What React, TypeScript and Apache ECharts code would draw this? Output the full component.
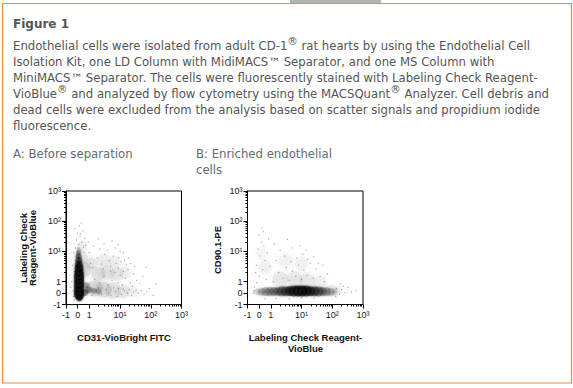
import React, { useEffect, useRef } from "react";
import * as echarts from "echarts";

// ---------- text content ----------
const figureTitle = "Figure 1";
const bodyLines = [
  "Endothelial cells were isolated from adult CD-1{r|®} rat hearts by using the Endothelial Cell",
  "Isolation Kit, one LD Column with MidiMACS™ Separator, and one MS Column with",
  "MiniMACS™ Separator. The cells were fluorescently stained with Labeling Check Reagent-",
  "VioBlue{r|®} and analyzed by flow cytometry using the MACSQuant{r|®} Analyzer. Cell debris and",
  "dead cells were excluded from the analysis based on scatter signals and propidium iodide",
  "fluorescence.",
];
const bodyLineY = [45.5, 61.5, 77.5, 94, 110, 126];
const panelATitle = "A: Before separation";
const panelBTitle = ["B: Enriched endothelial", "cells"];
const panelAXTitle = "CD31-VioBright FITC";
const panelAYTitle = "Labeling Check\nReagent-VioBlue";
const panelBXTitle = "Labeling Check Reagent-\nVioBlue";
const panelBYTitle = "CD90.1-PE";

// ---------- axis ticks (biexponential display) ----------
const majorTickValues = [-1, 0, 1, 10, 100, 1000];
const majorTickLabels = ["-1", "0", "1", "10¹", "10²", "10³"];
const minorTickValues = [2, 3, 4, 5, 6, 7, 8, 9, 20, 30, 40, 50, 60, 70, 80, 90, 200, 300, 400, 500, 600, 700, 800, 900];

// ---------- panel A data: [x, y, size, alpha] / [x, y] ----------
const panelACore = [
  [0.15, -0.4, 7, 0.5], [0.12, -0.15, 10, 0.6], [0.12, 0.15, 10, 0.62], [0.12, 0.5, 10, 0.62],
  [0.12, 0.85, 10, 0.62], [0.12, 1.2, 10, 0.6], [0.12, 1.6, 10, 0.58], [0.12, 2.1, 9, 0.55],
  [0.12, 2.8, 9, 0.5], [0.1, 3.7, 8, 0.48], [0.1, 5.0, 7, 0.42], [0.08, 6.8, 6, 0.35],
  [0.08, 9.0, 5, 0.26], [0.08, 12, 4, 0.15],
  [0.6, 0.05, 7, 0.3], [0.9, 0.3, 7, 0.25], [1.4, 0.2, 6, 0.18], [2.0, 0.15, 6, 0.12], [0.7, 0.7, 6, 0.2],
];
const panelAHaze = [
  [0.5, 2.5, 16, 0.08], [0.3, 6, 14, 0.06], [1.5, 0.4, 16, 0.09], [3, 0.3, 16, 0.08], [6, 0.2, 16, 0.06],
  [12, 0.15, 14, 0.05], [25, 0.1, 12, 0.035], [2, 1.8, 14, 0.07], [4, 2, 14, 0.06], [8, 1.8, 14, 0.05],
  [3, 5, 14, 0.045], [7, 4.5, 12, 0.04], [1.2, 4, 12, 0.06], [15, 2, 12, 0.035], [0.4, 15, 10, 0.04],
];
const panelADots = [
  [0.0, 10], [0.3, 11], [-0.2, 13], [0.5, 14], [0.1, 17], [0.35, 20], [-0.1, 24], [0.6, 27], [0.2, 32],
  [0.0, 40], [0.45, 48], [-0.25, 58], [0.15, 70], [0.3, 88], [0.7, 16], [-0.35, 9], [0.55, 9.5], [0.25, 38],
  [-0.4, 0.2], [-0.5, 1.0], [-0.35, -0.3], [-0.6, 0.5], [-0.3, 2.2], [-0.45, 3.5], [-0.3, -0.6],
  [1.2, -0.2], [2.5, -0.1], [3.5, 0.3], [5, -0.2], [7, 0.1], [9, 0.4], [11, -0.1], [14, 0.2], [17, 0.0],
  [20, 0.3], [24, -0.2], [28, 0.1], [33, 0.25], [40, 0.0], [48, 0.2], [60, -0.1], [75, 0.1], [4.2, 0.0],
  [6.2, 0.45], [12.5, 0.35], [2.0, 0.45], [8, -0.3],
  [1.0, 0.8], [1.5, 1.2], [2.2, 0.9], [3, 1.5], [4, 0.7], [5.5, 1.1], [6.8, 2.0], [8.5, 0.9], [10, 1.6],
  [12, 0.7], [15, 1.3], [18, 2.5], [22, 0.9], [27, 1.8], [35, 1.1], [45, 0.8], [2.8, 2.6], [4.8, 2.2],
  [1.3, 2.9], [9, 2.8], [13, 2.2], [25, 0.6],
  [1.1, 4], [1.8, 6], [2.5, 3.8], [3.2, 8], [4.4, 5], [5, 3.3], [6, 7], [7.5, 4], [9, 6], [11, 4.5],
  [13, 9], [16, 3.6], [19, 6], [2.2, 12], [1.4, 15], [4, 11], [7, 13], [10, 10], [3, 18], [5.5, 22],
  [1.0, 9], [8.5, 17], [14, 5], [22, 4], [30, 3.2], [2.0, 26], [0.9, 20],
  [55, 1.5], [90, 0.4], [120, -0.2], [70, 3], [150, 0.8],
];

// ---------- panel B data ----------
const panelBCore = [
  [-0.13, 0.12, 7, 0.1], [0.22, 0.12, 8, 0.14], [0.57, 0.13, 9, 0.18], [0.91, 0.13, 9, 0.2],
  [1.26, 0.14, 9, 0.23], [1.73, 0.14, 9, 0.26], [2.31, 0.15, 10, 0.3], [3.14, 0.16, 10, 0.34],
  [4.23, 0.17, 10, 0.4], [5.74, 0.18, 11, 0.45], [7.77, 0.18, 11, 0.5], [10.5, 0.18, 11, 0.5],
  [14.2, 0.17, 11, 0.46], [19.3, 0.16, 10, 0.42], [26.1, 0.15, 10, 0.36], [35.4, 0.14, 10, 0.3],
  [47.9, 0.13, 9, 0.24], [64.9, 0.12, 9, 0.18], [88, 0.12, 8, 0.12], [119, 0.1, 7, 0.07],
];
const panelBHaze = [
  [0.5, 3, 14, 0.03], [2, 1.2, 16, 0.05], [6, 1.2, 16, 0.05], [15, 1.1, 16, 0.045], [40, 0.9, 14, 0.035],
  [0.2, 8, 12, 0.025], [3, 5, 14, 0.03], [10, 4, 14, 0.03], [150, 0.2, 10, 0.035], [90, 0.2, 12, 0.05],
];
const panelBDots = [
  [0.0, 1.5], [0.3, 2.5], [-0.2, 3.5], [0.5, 5], [0.1, 7], [0.7, 9], [-0.1, 12], [0.4, 15], [0.2, 20],
  [0.8, 26], [-0.3, 2.0], [0.6, 1.2], [0.0, 35], [0.35, 45], [-0.2, 0.9], [0.9, 3.2], [0.2, 60],
  [1.2, 1.0], [1.8, 2.0], [2.5, 1.3], [3.2, 3], [4, 1.1], [5, 2.2], [6.5, 1.5], [8, 3.5], [10, 1.2],
  [12, 2.4], [15, 1.6], [19, 4], [24, 1.3], [30, 2.6], [40, 1.5], [55, 1.0], [70, 1.8], [1.5, 5],
  [2.8, 7], [4.5, 4.5], [7, 6], [11, 8], [16, 5.5], [25, 6.5], [35, 4], [2.0, 11], [5, 13], [9, 15],
  [1.3, 18], [3.5, 25], [14, 11], [50, 3.5],
  [1.5, -0.45], [4, -0.5], [10, -0.4], [25, -0.45], [0.5, -0.5],
  [110, 0.1], [140, 0.4], [170, -0.1], [200, 0.3], [260, 0.0], [320, 0.5], [180, 0.8], [420, 0.1],
  [130, -0.3], [230, 0.6], [600, 0.2],
  [-0.45, 0.2], [-0.5, 0.0], [-0.4, 0.5],
];

// ---------- helpers ----------
const bx = (v: number) => (v <= 1 ? 11.5 + 11.5 * v : 23 + 30.33 * Math.log10(v));
const FMAX = bx(1000);
const majorF = majorTickValues.map(bx);
const minorF = minorTickValues.map(bx);
const labelOf = (v: number) => {
  let best = 0;
  for (let i = 0; i < majorF.length; i++) if (Math.abs(majorF[i] - v) < Math.abs(majorF[best] - v)) best = i;
  return majorTickLabels[best];
};

const TICK_FONT = "Liberation Sans, Arial, sans-serif";
const BODY_FONT = "DejaVu Sans, Verdana, sans-serif";
const BODY_SIZE = 11.7;

function makeAxes(gridIndex: number, dim: "x" | "y") {
  const major: any = {
    type: "value",
    gridIndex,
    min: 0,
    max: FMAX,
    position: dim === "x" ? "bottom" : "left",
    axisLine: { show: true, onZero: false, lineStyle: { color: "#000", width: 1 } },
    axisTick: { show: true, customValues: majorF, length: 4, inside: false, lineStyle: { color: "#000", width: 1 } },
    axisLabel: {
      show: true,
      customValues: majorF,
      formatter: (v: number) => labelOf(v),
      fontSize: 9,
      fontFamily: TICK_FONT,
      color: "#1a1a1a",
      margin: dim === "x" ? 6 : 5,
    },
    splitLine: { show: false },
  };
  const minor: any = {
    type: "value",
    gridIndex,
    min: 0,
    max: FMAX,
    position: dim === "x" ? "bottom" : "left",
    axisLine: { show: false, onZero: false },
    axisTick: { show: true, customValues: minorF, length: 2, inside: false, lineStyle: { color: "#000", width: 1 } },
    axisLabel: { show: false },
    splitLine: { show: false },
  };
  return [major, minor];
}

function pointSeries(axisIndex: number, pts: number[][], color: string, blur: number) {
  return {
    type: "scatter",
    xAxisIndex: axisIndex,
    yAxisIndex: axisIndex,
    silent: true,
    clip: true,
    symbol: "circle",
    data: pts.map((p) => ({
      value: [bx(p[0]), bx(p[1])],
      symbolSize: p[2],
      itemStyle: { color, opacity: p[3], shadowBlur: blur, shadowColor: color },
    })),
  };
}

function dotSeries(axisIndex: number, pts: number[][]) {
  return {
    type: "scatter",
    xAxisIndex: axisIndex,
    yAxisIndex: axisIndex,
    silent: true,
    clip: true,
    symbol: "circle",
    symbolSize: 1.2,
    itemStyle: { color: "#444", opacity: 0.5 },
    data: pts.map((p) => [bx(p[0]), bx(p[1])]),
  };
}

export default function App() {
  const ref = useRef<HTMLDivElement>(null);
  useEffect(() => {
    if (!ref.current) return;
    const chart = echarts.init(ref.current, null, { renderer: "svg" });
    const body = bodyLines.map((t, i) => ({
      type: "text",
      x: 13,
      y: bodyLineY[i],
      style: {
        text: t,
        fontSize: BODY_SIZE,
        fontFamily: BODY_FONT,
        fill: "#555",
        verticalAlign: "middle",
        align: "left",
        lineHeight: 15,
        rich: {
          r: { fontSize: 10.5, fontFamily: BODY_FONT, fill: "#555", padding: [0, 0, 10, 0] },
        },
      },
    }));
    const option: any = {
      animation: false,
      backgroundColor: "#fff",
      grid: [
        { left: 66, top: 191, width: 115.5, height: 113.5, show: true, borderColor: "#000", borderWidth: 1, containLabel: false },
        { left: 247.5, top: 191, width: 115.5, height: 113.5, show: true, borderColor: "#000", borderWidth: 1, containLabel: false },
      ],
      xAxis: [...makeAxes(0, "x"), ...makeAxes(1, "x")],
      yAxis: [...makeAxes(0, "y"), ...makeAxes(1, "y")],
      series: [
        pointSeries(0, panelAHaze, "#000", 6),
        dotSeries(0, panelADots),
        pointSeries(0, panelACore, "#0a0a0a", 2),
        pointSeries(2, panelBHaze, "#000", 6),
        dotSeries(2, panelBDots),
        pointSeries(2, panelBCore, "#0a0a0a", 2),
      ],
      graphic: [
        { type: "rect", shape: { x: 290, y: 0, width: 91, height: 3 }, style: { fill: "#b4b4b4" }, silent: true },
        { type: "rect", shape: { x: 2.5, y: 3.5, width: 569, height: 379.5 }, style: { fill: "none", stroke: "#ee8a2f", lineWidth: 1.2 }, silent: true },
        {
          type: "text", x: 13, y: 24,
          style: { text: figureTitle, fontSize: 12, fontWeight: "bold", fontFamily: BODY_FONT, fill: "#555", verticalAlign: "middle" },
        },
        ...body,
        {
          type: "text", x: 13, y: 154,
          style: { text: panelATitle, fontSize: BODY_SIZE, fontFamily: BODY_FONT, fill: "#5f6b77", verticalAlign: "middle" },
        },
        {
          type: "text", x: 196, y: 153.5,
          style: { text: panelBTitle[0], fontSize: BODY_SIZE, fontFamily: BODY_FONT, fill: "#5f6b77", verticalAlign: "middle" },
        },
        {
          type: "text", x: 196, y: 169.5,
          style: { text: panelBTitle[1], fontSize: BODY_SIZE, fontFamily: BODY_FONT, fill: "#5f6b77", verticalAlign: "middle" },
        },
        {
          type: "text", x: 124, y: 337,
          style: { text: panelAXTitle, fontSize: 9.5, fontWeight: "bold", fontFamily: TICK_FONT, fill: "#111", align: "center", verticalAlign: "middle" },
        },
        {
          type: "text", x: 28, y: 248, rotation: Math.PI / 2,
          style: { text: panelAYTitle, fontSize: 9.5, lineHeight: 9, fontWeight: "bold", fontFamily: TICK_FONT, fill: "#111", align: "center", verticalAlign: "middle" },
        },
        {
          type: "text", x: 305.5, y: 343,
          style: { text: panelBXTitle, fontSize: 9.5, lineHeight: 11, fontWeight: "bold", fontFamily: TICK_FONT, fill: "#111", align: "center", verticalAlign: "middle" },
        },
        {
          type: "text", x: 217, y: 250, rotation: Math.PI / 2,
          style: { text: panelBYTitle, fontSize: 9.5, fontWeight: "bold", fontFamily: TICK_FONT, fill: "#111", align: "center", verticalAlign: "middle" },
        },
      ],
    };
    chart.setOption(option);
    return () => chart.dispose();
  }, []);
  return (
    <div
      ref={ref}
      style={{ position: "absolute", left: 0, top: 0, width: 573, height: 388, background: "#fff" }}
    />
  );
}
